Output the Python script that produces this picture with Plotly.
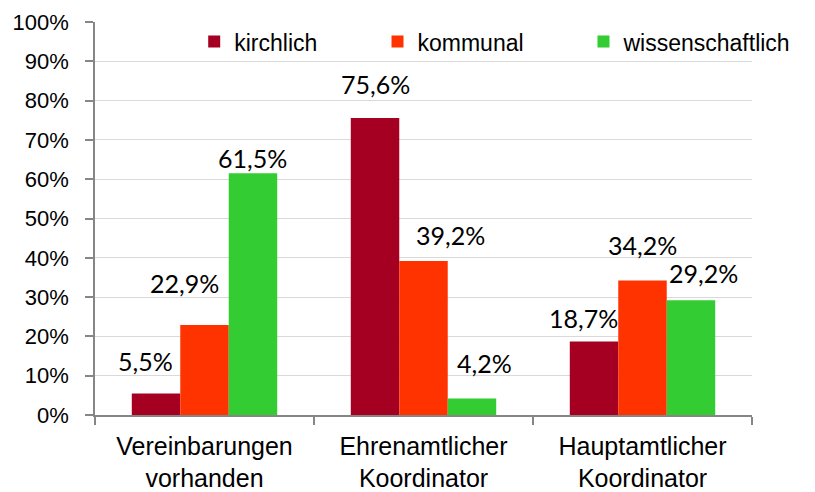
import plotly.graph_objects as go

categories = ["Vereinbarungen<br>vorhanden", "Ehrenamtlicher<br>Koordinator", "Hauptamtlicher<br>Koordinator"]
series_names = ["kirchlich", "kommunal", "wissenschaftlich"]
kirchlich = [0.055, 0.756, 0.187]
kommunal = [0.229, 0.392, 0.342]
wissenschaftlich = [0.615, 0.042, 0.292]
label_texts = [["5,5%", "75,6%", "18,7%"],
               ["22,9%", "39,2%", "34,2%"],
               ["61,5%", "4,2%", "29,2%"]]
y_ticks = [0, 0.1, 0.2, 0.3, 0.4, 0.5, 0.6, 0.7, 0.8, 0.9, 1.0]
y_tick_labels = ["0%", "10%", "20%", "30%", "40%", "50%", "60%", "70%", "80%", "90%", "100%"]

colors = ["#A50021", "#FF3300", "#33CC33"]
# label placement tweaks (pixels) per series / category
label_dx = [[-11, 0, -11], [-20, 27, 0], [0, 13, 13]]
label_dy = [[32, 34, 24], [42, 26, 36], [15, 35, 27]]
legend_x = [0.151, 0.430, 0.7435]
legend_names = ["legend", "legend2", "legend3"]

values = [kirchlich, kommunal, wissenschaftlich]

fig = go.Figure()
for name, vals, col, lg in zip(series_names, values, colors, legend_names):
    fig.add_trace(go.Bar(name=name, x=categories, y=vals, marker_color=col,
                         marker_line_width=0, hoverinfo="skip", legend=lg,
                         showlegend=True))

# page body has an 8px default margin, so offsets account for it
L, R, T, B = 87, 71, 14, 85
plot_w = 815 - L - R
bar_w = plot_w / 3 * (1 - 0.336) / 3

annotations = []
for j in range(3):
    for i in range(3):
        annotations.append(dict(
            x=categories[i], y=values[j][i], xref="x", yref="y",
            text=label_texts[j][i], showarrow=False,
            xshift=(j - 1) * bar_w + label_dx[j][i], yshift=label_dy[j][i],
            yanchor="middle", xanchor="center",
            font=dict(family="Lato, Liberation Sans, Arial", size=25, color="#000000")))

legend_common = dict(orientation="h", y=0.95, xanchor="left", yanchor="middle",
                     font=dict(size=23, family="Liberation Sans, Arial", color="#000000"),
                     bgcolor="rgba(255,255,255,0)", itemwidth=30)

layout_legends = {lg: dict(legend_common, x=lx) for lg, lx in zip(legend_names, legend_x)}

fig.update_layout(
    width=815, height=492,
    showlegend=True,
    margin=dict(l=L, r=R, t=T, b=B, autoexpand=False),
    paper_bgcolor="white", plot_bgcolor="white",
    barmode="group", bargap=0.336, bargroupgap=0,
    font=dict(family="Liberation Sans, Arial", color="#000000"),
    annotations=annotations,
    xaxis=dict(showline=True, linecolor="#868686", linewidth=1.5,
               ticks="outside", ticklen=8, tickcolor="#868686", tickwidth=1.5,
               tickson="boundaries", tickfont=dict(size=25),
               ticklabelstandoff=8, showgrid=False, automargin=False),
    yaxis=dict(range=[0, 1], tickvals=y_ticks, ticktext=y_tick_labels,
               showline=True, linecolor="#868686", linewidth=1.5,
               ticks="outside", ticklen=8, tickcolor="#868686", tickwidth=1.5,
               showgrid=True, gridcolor="#D9D9D9", gridwidth=1.3,
               tickfont=dict(size=22), ticklabelstandoff=12, zeroline=False,
               automargin=False),
    **layout_legends,
)

fig.write_html("out.html")
